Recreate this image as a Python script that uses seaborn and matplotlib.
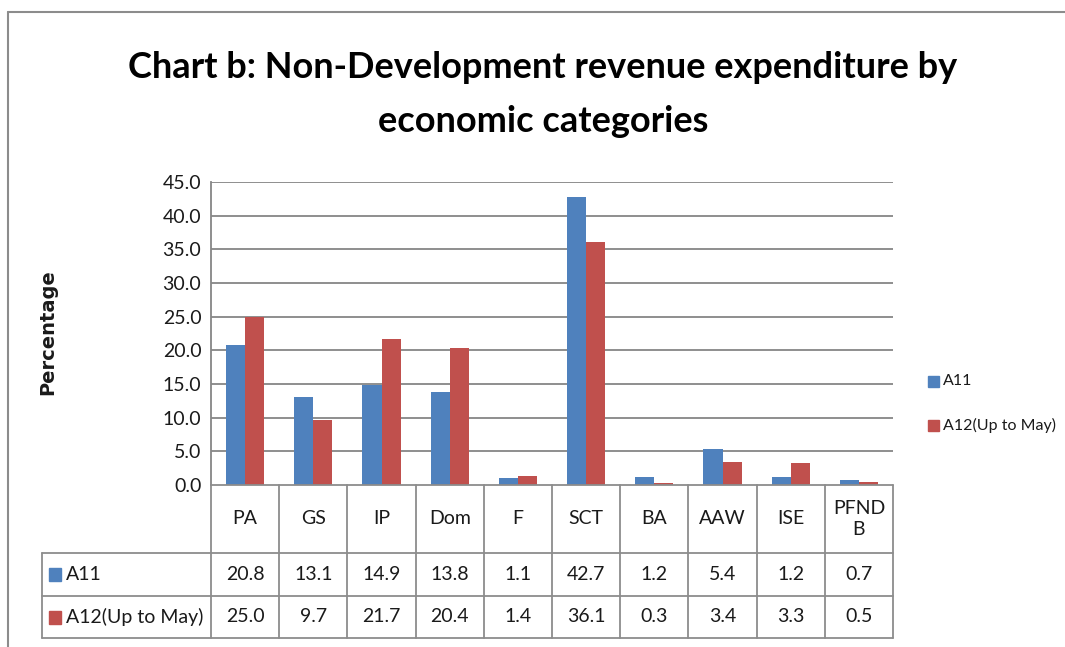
import matplotlib
matplotlib.use("Agg")
import matplotlib.pyplot as plt
from matplotlib.lines import Line2D
from matplotlib.patches import Rectangle
from matplotlib.transforms import blended_transform_factory
import seaborn as sns
import pandas as pd
import numpy as np

categories = ["PA", "GS", "IP", "Dom", "F", "SCT", "BA", "AAW", "ISE", "PFND\nB"]
series_names = ["A11", "A12(Up to May)"]
a11 = [20.8, 13.1, 14.9, 13.8, 1.1, 42.7, 1.2, 5.4, 1.2, 0.7]
a12 = [25.0, 9.7, 21.7, 20.4, 1.4, 36.1, 0.3, 3.4, 3.3, 0.5]
yticks = [0, 5, 10, 15, 20, 25, 30, 35, 40, 45]
colors = ["#4F81BD", "#C0504D"]

W, H = 1065, 647
sns.set_theme(style="white")
NARROW = ["Lato", "DejaVu Sans"]
plt.rcParams["font.family"] = NARROW

df = pd.DataFrame({
    "cat": categories * 2,
    "series": [series_names[0]] * len(categories) + [series_names[1]] * len(categories),
    "val": a11 + a12,
})

fig = plt.figure(figsize=(W / 100, H / 100), dpi=100)
fig.patch.set_facecolor("white")

def fx(px):
    return px / W

def fy(py):
    return 1 - py / H

ax = fig.add_axes([fx(211), fy(485), fx(893) - fx(211), fy(182) - fy(485)])
sns.barplot(data=df, x="cat", y="val", hue="series", palette=colors, order=categories,
            hue_order=series_names, width=0.56, gap=0, linewidth=0, ax=ax, legend=False,
            saturation=1)
ax.set_xlim(-0.5, len(categories) - 0.5)
ax.set_ylim(0, 45)
ax.set_yticks(yticks)
ax.set_yticklabels([f"{v:.1f}" for v in yticks], fontsize=14, color="#1a1a1a")
ax.set_xticks([])
ax.set_xlabel("")
ax.set_ylabel("")
ax.tick_params(axis="y", length=0, pad=7)
for v in yticks[1:]:
    ax.axhline(v, color="#868686", lw=1.3, zorder=0)
for s in ["top", "right", "bottom"]:
    ax.spines[s].set_visible(False)
ax.spines["left"].set_color("#868686")
ax.spines["left"].set_linewidth(1.3)
ax.set_facecolor("white")

# y label
fig.text(fx(48), fy(332), "Percentage", rotation=90, ha="center", va="center",
         fontsize=14, fontweight="bold", family=["DejaVu Sans"], color="#1a1a1a")

# title
fig.text(fx(543), fy(67), "Chart b: Non-Development revenue expenditure by",
         ha="center", va="center", fontsize=26, fontweight="bold", color="black")
fig.text(fx(543), fy(121), "economic categories",
         ha="center", va="center", fontsize=26, fontweight="bold", color="black")

# legend
for i, (name, c) in enumerate(zip(series_names, colors)):
    yy = [381, 425][i]
    fig.add_artist(Rectangle((fx(928), fy(yy + 6)), fx(11), fy(0) - fy(11),
                             transform=fig.transFigure, color=c))
    fig.text(fx(943), fy(yy), name, ha="left", va="center", fontsize=11.5, color="#1a1a1a")

# data table
bt = blended_transform_factory(ax.transData, fig.transFigure)
lc = "#8C8C8C"
lw = 1.3
y_head_top, y_head_bot, y_r1, y_r2 = fy(485), fy(553), fy(596), fy(638)
x0, x1 = -0.5, len(categories) - 0.5
for b in np.arange(len(categories) + 1) - 0.5:
    fig.add_artist(Line2D([b, b], [y_head_top, y_r2], transform=bt, color=lc, lw=lw))
fig.add_artist(Line2D([x0, x1], [y_head_top, y_head_top], transform=bt, color=lc, lw=lw))
for yy in [y_head_bot, y_r1, y_r2]:
    fig.add_artist(Line2D([fx(42), fx(893)], [yy, yy], transform=fig.transFigure, color=lc, lw=lw))
fig.add_artist(Line2D([fx(42), fx(42)], [y_head_bot, y_r2], transform=fig.transFigure, color=lc, lw=lw))

for i, cat in enumerate(categories):
    fig.text(i, (y_head_top + y_head_bot) / 2, cat, transform=bt, ha="center", va="center",
             fontsize=14, color="#1a1a1a", linespacing=1.25)
    fig.text(i, (y_head_bot + y_r1) / 2, f"{a11[i]:.1f}", transform=bt, ha="center", va="center",
             fontsize=14, color="#1a1a1a")
    fig.text(i, (y_r1 + y_r2) / 2, f"{a12[i]:.1f}", transform=bt, ha="center", va="center",
             fontsize=14, color="#1a1a1a")

for name, c, (ya, yb) in zip(series_names, colors, [(y_head_bot, y_r1), (y_r1, y_r2)]):
    ym = (ya + yb) / 2
    fig.add_artist(Rectangle((fx(49), ym - 6.5 / H), fx(12), 13 / H, transform=fig.transFigure, color=c))
    fig.text(fx(66), ym, name, ha="left", va="center", fontsize=14, color="#1a1a1a")

# outer chart frame
fig.add_artist(Line2D([fx(8), fx(8)], [fy(12), 0], transform=fig.transFigure, color="#8C8C8C", lw=1.5))
fig.add_artist(Line2D([fx(8), 1], [fy(12), fy(12)], transform=fig.transFigure, color="#8C8C8C", lw=1.5))

fig.savefig("out.png", dpi=100, facecolor="white")
